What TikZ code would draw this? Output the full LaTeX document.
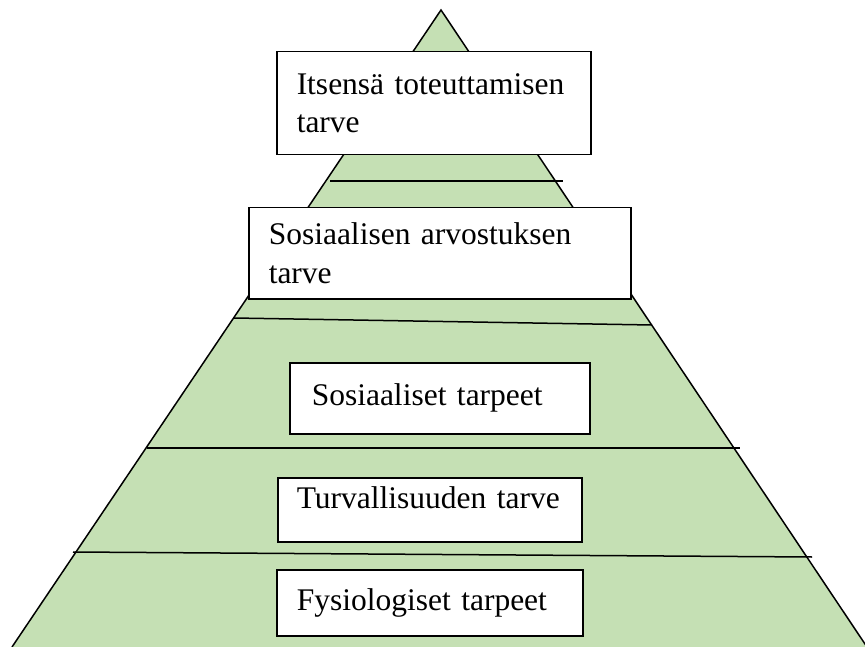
\documentclass[tikz,border=0pt]{standalone}
\usepackage{fontspec}
\setmainfont{Liberation Serif}
\usetikzlibrary{positioning}
\definecolor{pyrgreen}{HTML}{C5E0B4}

\begin{document}
\begin{tikzpicture}[x=1pt,y=-1pt,
  tarvebox/.style={draw,fill=white,line width=1.5pt,anchor=north west,align=left,
    inner xsep=20pt,inner ysep=0pt,font=\fontsize{31.5}{38.5}\selectfont},
  viiva/.style={line width=1.5pt}]
\useasboundingbox (0,0) rectangle (865,647);
			% Define pyramid
			\coordinate (apex) at (441,10);
			\coordinate (bl) at (12,647);
			\coordinate (br) at (867,647);
			\fill[pyrgreen] (bl) -- (apex) -- (br) -- cycle;
			\draw[viiva] (bl) -- (apex) -- (br);
			%%add lines
			\coordinate (v1a) at (330,181); \coordinate (v1b) at (563,181);
			\coordinate (v2a) at (234,318); \coordinate (v2b) at (652,325);
			\coordinate (v3a) at (147,448); \coordinate (v3b) at (740,448);
			\coordinate (v4a) at (73,552); \coordinate (v4b) at (812,557);
			\draw[viiva] (v1a) -- (v1b);
			\draw[viiva] (v2a) -- (v2b);
			\draw[viiva] (v3a) -- (v3b);
			\draw[viiva] (v4a) -- (v4b);
			% Define nodes
			\node[tarvebox, text width=274pt, minimum height=103pt] (itse) at (276,51) {Itsensä toteuttamisen\\tarve}; %
			\node[tarvebox, text width=342pt, minimum height=91pt] (arvostus) at (248,207) {Sosiaalisen arvostuksen\\tarve}; %
			\node[tarvebox, text width=256pt, inner xsep=22pt, minimum height=71pt] (sosiaali) at (289,362) {Sosiaaliset tarpeet}; %
			\node[tarvebox, text width=266pt, inner xsep=19pt, inner ysep=6pt, text height=25pt, text depth=27pt] (turva) at (277,477) {Turvallisuuden tarve}; %
			\node[tarvebox, text width=266pt, minimum height=66pt] (fysio) at (276,569) {Fysiologiset tarpeet}; %
\end{tikzpicture}
\end{document}
